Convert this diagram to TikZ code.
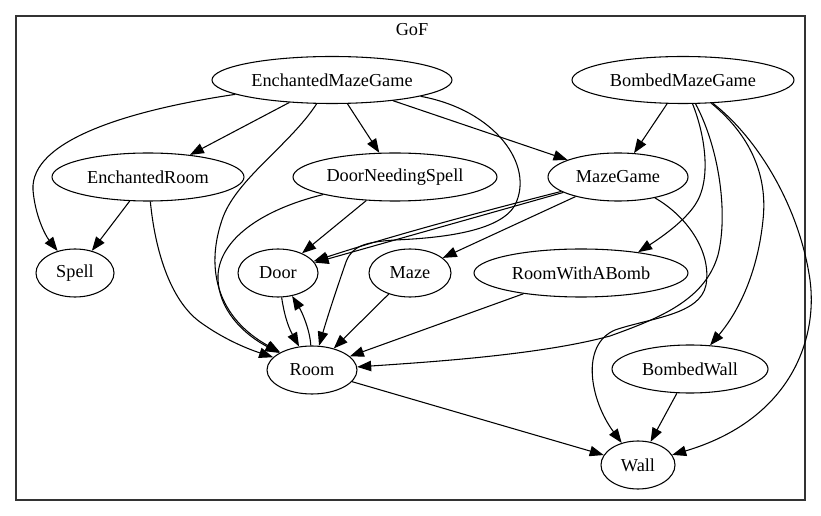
\documentclass[tikz,border=0pt]{standalone}
\usepackage{fontspec}
\newfontfamily\gvfont{Liberation Serif}
\usetikzlibrary{shapes.geometric,arrows.meta}
\begin{document}
\begin{tikzpicture}[x=0.75pt,y=-0.75pt,
  txt/.style={font=\gvfont\fontsize{13.7}{16}\selectfont},
  ell/.style={ellipse,draw,inner sep=0pt,line width=0.8pt,txt},
  sz/.style 2 args={minimum width={#1*0.75pt},minimum height={#2*0.75pt}},
  edge/.style={line width=0.8pt,-{Triangle[length=10.5pt,width=7.8pt]}}]
\useasboundingbox (0,0) rectangle (821,516);
\draw[line width=1pt,black!80] (16,16) rectangle (805,500);
\node[txt] (title) at (412,30) {GoF};
% nodes
\node[ell,sz={240}{47}] (emg) at (332,80) {EnchantedMazeGame};
\node[ell,sz={222}{47}] (bmg) at (683,80) {BombedMazeGame};
\node[ell,sz={192}{48}] (er) at (148,177) {EnchantedRoom};
\node[ell,sz={204}{48}] (dns) at (395,177) {DoorNeedingSpell};
\node[ell,sz={140}{48}] (mg) at (618,177) {MazeGame};
\node[ell,sz={78}{48}] (spell) at (75,273) {Spell};
\node[ell,sz={80}{48}] (door) at (278,273) {Door};
\node[ell,sz={82}{48}] (maze) at (410,273) {Maze};
\node[ell,sz={214}{48}] (rwab) at (581,273) {RoomWithABomb};
\node[ell,sz={90}{48}] (room) at (312,370) {Room};
\node[ell,sz={156}{48}] (bw) at (690,369) {BombedWall};
\node[ell,sz={74}{48}] (wall) at (638,465) {Wall};
% edges from EnchantedMazeGame
\draw[edge] (emg) .. controls (130,110) and (30,140) .. (33,190) .. controls (35,215) and (45,235) .. (spell);
\draw[edge] (emg) -- (er);
\draw[edge] (emg) .. controls (290,145) and (235,180) .. (222,220) .. controls (205,270) and (218,318) .. (room);
\draw[edge] (emg) -- (dns);
\draw[edge] (emg) -- (mg);
\draw[edge] (emg) .. controls (495,110) and (535,165) .. (515,205) .. controls (500,232) and (440,238) .. (395,240) .. controls (365,242) and (352,246) .. (346,262) .. controls (338,285) and (328,315) .. (room);
% edges from BombedMazeGame
\draw[edge] (bmg) -- (mg);
\draw[edge] (bmg) .. controls (705,135) and (712,180) .. (695,205) .. controls (685,220) and (665,235) .. (rwab.20);
\draw[edge] (bmg) .. controls (720,150) and (728,215) .. (718,255) .. controls (705,300) and (660,318) .. (610,336) .. controls (540,355) and (430,362) .. (room);
\draw[edge] (bmg) .. controls (750,135) and (768,175) .. (763,220) .. controls (758,270) and (740,310) .. (bw);
\draw[edge] (bmg) .. controls (760,140) and (800,210) .. (810,280) .. controls (818,340) and (790,420) .. (wall);
% other edges
\draw[edge] (er) -- (spell);
\draw[edge] (er) .. controls (155,250) and (170,300) .. (200,322) .. controls (222,338) and (245,348) .. (room);
\draw[edge] (dns) -- (door);
\draw[edge] (dns) .. controls (260,210) and (220,240) .. (218,275) .. controls (217,310) and (245,335) .. (room);
\draw[edge] (mg) -- (door);
\draw[edge] (mg) .. controls (500,207) and (400,233) .. (door);
\draw[edge] (mg) -- (maze);
\draw[edge] (mg) .. controls (685,215) and (712,250) .. (706,285) .. controls (700,315) and (650,318) .. (615,330) .. controls (580,345) and (590,400) .. (wall);
\draw[edge] (door) .. controls (285,320) and (290,330) .. (room);
\draw[edge] (room) .. controls (310,330) and (302,312) .. (door);
\draw[edge] (maze) -- (room);
\draw[edge] (rwab) -- (room);
\draw[edge] (room) -- (wall);
\draw[edge] (bw) -- (wall);
\end{tikzpicture}
\end{document}
